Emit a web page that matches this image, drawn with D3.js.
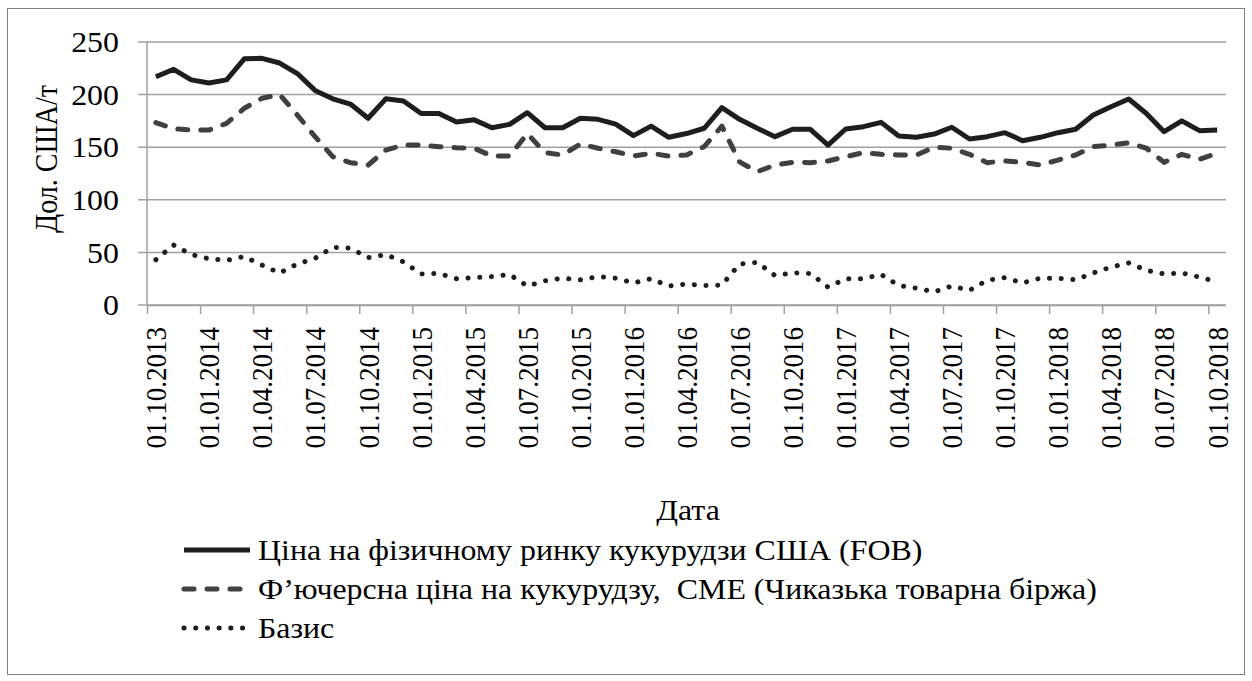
<!DOCTYPE html>
<html><head><meta charset="utf-8">
<script src="https://cdn.jsdelivr.net/npm/d3@7"></script>
<style>
html,body{margin:0;padding:0;background:#fff;}
text{font-family:"Liberation Serif","Times New Roman",Times,serif;fill:#000;}
</style></head>
<body><svg id="c" width="1252" height="681"></svg>
<script>
// ---- data ----
const tickLabels = ["01.10.2013","01.01.2014","01.04.2014","01.07.2014","01.10.2014","01.01.2015","01.04.2015","01.07.2015","01.10.2015","01.01.2016","01.04.2016","01.07.2016","01.10.2016","01.01.2017","01.04.2017","01.07.2017","01.10.2017","01.01.2018","01.04.2018","01.07.2018","01.10.2018"];
const yTicks = [0,50,100,150,200,250];
const fob = [217,224,214,211,214,234,234.5,230,220,204,196,191,177.5,196,194,182,182,174,176,168.5,171.7,182.8,168.5,168.5,177.5,176.5,172,161,170,159.4,163,168,187.6,176.5,168,160,167,167,152,167.3,169.5,173.6,160.6,159.4,162.5,169,157.8,160,163.8,156.2,159.4,163.8,167,180.6,188.5,195.8,182,164.7,175,165.7,166.3];
const cme = [173.3,167.6,166.3,166.3,172.7,187,196.5,200,180.6,160,141,135.3,133,147.3,152,152,150.5,149.5,149,141.6,141.6,163,144.8,142.6,153,149,145.7,141.6,144.2,141.6,142.6,150.5,170,136,126.7,133,135.6,135.3,136.9,141,144.8,143.2,142.6,142.6,150,149,143.2,135.3,136.9,135.6,133,137.8,142.6,150.5,152,154.3,149,135.6,143.2,138.5,144.2];
const basis = [43,57,48,44,42.5,46,38,30.4,39,44.4,54.8,54,45,48,41,29.5,30,25,26,27,29,18,23,25.5,24,27,25.5,21,25,18,20,18.5,19,39,40.5,28,30.5,30,17,25,25,29,18.5,16,12.5,18,14,23.5,26,21,25.5,25.5,24,30.5,36,40,33,29.5,30.5,26.5,22];
const seriesNames = ["Ціна на фізичному ринку кукурудзи США (FOB)","Ф’ючерсна ціна на кукурудзу,  CME (Чиказька товарна біржа)","Базис"];
const xTitle = "Дата";
const yTitle = "Дол. США/т";

// ---- layout ----
const FONT = "Liberation Serif";
const svg = d3.select("#c");
const L = 147, R = 1226, T = 42, B = 305;
const n = fob.length;
const x = d3.scaleLinear().domain([0, n]).range([L, R]);
const y = d3.scaleLinear().domain([0, 250]).range([B, T]);
const grid = "#a0a0a0";
const fsV = 27;
const fsH = 29;
const SX = 1.1; // horizontal glyph stretch seen in reference

svg.append("rect").attr("x",7.5).attr("y",8.5).attr("width",1237).attr("height",666)
  .attr("fill","none").attr("stroke","#7f7f7f").attr("stroke-width",1);

const ga = svg.append("g");
yTicks.forEach(v=>{
  ga.append("line").attr("x1",L-9).attr("x2",R).attr("y1",y(v)).attr("y2",y(v))
    .attr("stroke",grid).attr("stroke-width",1.5);
  ga.append("text").attr("transform",`translate(119,${y(v)}) scale(${SX},1)`).attr("dy","0.35em")
    .attr("font-family",FONT).attr("text-anchor","end").attr("font-size",fsH).text(v);
});
svg.append("line").attr("x1",L).attr("x2",L).attr("y1",T).attr("y2",B)
  .attr("stroke",grid).attr("stroke-width",1.5);

const xTickVals = d3.range(0, n, 3);
const xAxis = d3.axisBottom(x).tickValues(xTickVals).tickSize(9).tickFormat("");
const gx = svg.append("g").attr("transform",`translate(0,${B})`).call(xAxis);
gx.select(".domain").attr("stroke",grid).attr("stroke-width",1.5).attr("d",`M${L},0.5H${R}`);
gx.selectAll(".tick line").attr("stroke",grid).attr("stroke-width",1.5);

svg.append("g").selectAll("text").data(xTickVals).join("text")
  .attr("transform",d=>`translate(${x(d+0.5)},${327}) rotate(-90) scale(1,${SX})`)
  .attr("font-family",FONT)
  .attr("dy","0.35em").attr("text-anchor","end").attr("font-size",fsV)
  .text((d,i)=>tickLabels[i]);

const line = d3.line().x((d,i)=>x(i+0.5)).y(d=>y(d));
const styles = [
  {data:fob, stroke:"#1e1e1e", w:5, dash:null, cap:"butt"},
  {data:cme, stroke:"#404040", w:5, dash:"10,13", cap:"round"},
  {data:basis, stroke:"#1e1e1e", w:5, dash:"0.1,11.6", cap:"round"}
];
styles.forEach(s=>{
  svg.append("path").datum(s.data).attr("d",line).attr("fill","none")
    .attr("stroke",s.stroke).attr("stroke-width",s.w).attr("stroke-linejoin","round")
    .attr("stroke-linecap",s.cap).attr("stroke-dasharray",s.dash);
});

svg.append("text").attr("transform",`translate(46,159) rotate(-90) scale(1,${SX})`).attr("dy","0.35em")
  .attr("font-family",FONT).attr("text-anchor","middle").attr("font-size",fsV+1).text(yTitle);
svg.append("text").attr("transform",`translate(688,520) scale(${SX},1)`).attr("text-anchor","middle")
  .attr("font-family",FONT).attr("font-size",fsH).text(xTitle);

const legY = [550, 589, 628];
seriesNames.forEach((nm,i)=>{
  const s = styles[i];
  svg.append("line").attr("x1",184).attr("x2",250).attr("y1",legY[i]).attr("y2",legY[i])
    .attr("stroke",s.stroke).attr("stroke-width",s.w).attr("stroke-linecap",s.cap)
    .attr("stroke-dasharray",s.dash);
  svg.append("text").attr("transform",`translate(258,${legY[i]}) scale(${SX},1)`).attr("dy","0.35em")
    .attr("font-family",FONT).attr("font-size",fsH).attr("xml:space","preserve").text(nm);
});
</script></body></html>
